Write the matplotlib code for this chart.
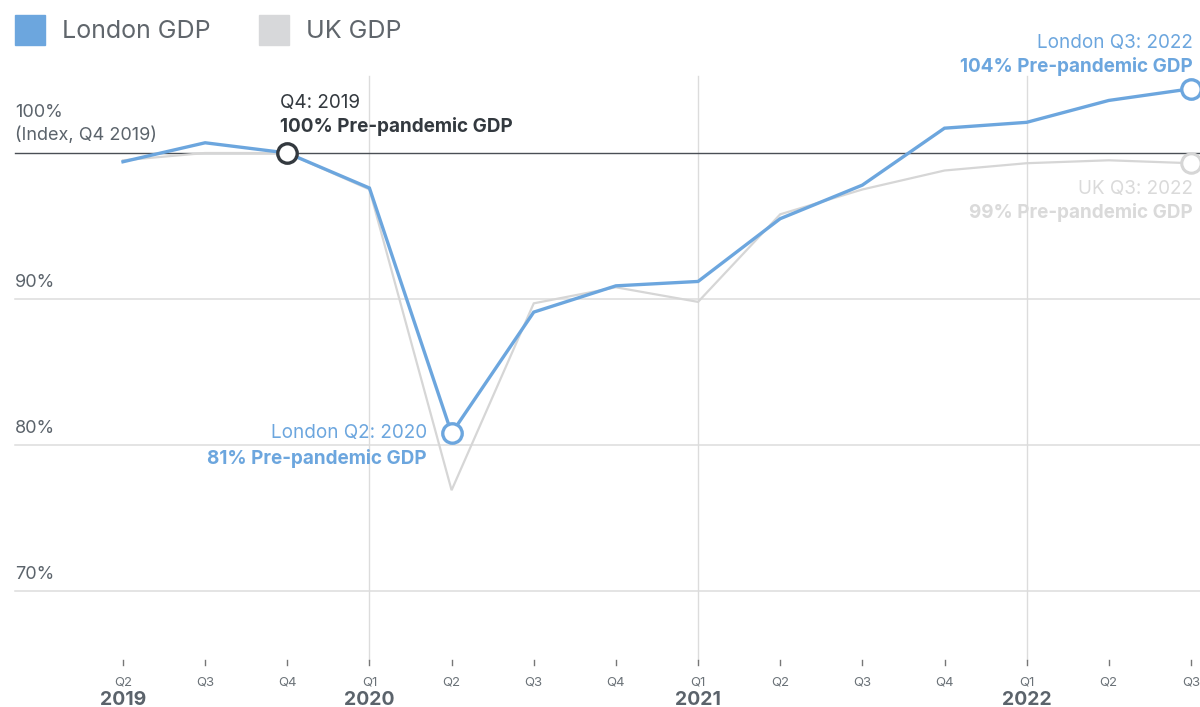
import matplotlib.pyplot as plt

plt.rcParams['font.family'] = ['Inter', 'DejaVu Sans']

# Quarterly GDP index (Q4 2019 = 100)
quarters = ["Q2", "Q3", "Q4", "Q1", "Q2", "Q3", "Q4",
            "Q1", "Q2", "Q3", "Q4", "Q1", "Q2", "Q3"]
years = ["2019", "2020", "2021", "2022"]
year_positions = [0, 3, 7, 11]
london_gdp = [99.4, 100.7, 100.0, 97.6, 80.8, 89.1, 90.9,
              91.2, 95.5, 97.8, 101.7, 102.1, 103.6, 104.4]
uk_gdp = [99.5, 100.0, 100.0, 97.5, 76.9, 89.7, 90.8,
          89.8, 95.8, 97.5, 98.8, 99.3, 99.5, 99.3]
y_grid = [90, 80, 70]

BLUE = "#6ca6de"
GREY = "#d6d6d6"
DARK = "#33393f"
TEXT = "#5b636b"
ANN = 13.6

fig = plt.figure(figsize=(12, 7.07), dpi=100)
ax = fig.add_axes([0, 0, 1, 1])
ax.set_xlim(-1.497, 13.11)
ax.set_ylim(62.05, 110.48)
ax.axis("off")

x = list(range(len(quarters)))
x_left = -1.315  # left edge of gridlines

# horizontal gridlines and labels
for v in y_grid:
    ax.plot([x_left, 13.2], [v, v], color="#dcdcdc", lw=1.1, zorder=1, clip_on=False)
    ax.text(x_left, v + 0.55, f"{v}%", fontsize=13, color=TEXT, ha="left", va="bottom")
ax.plot([x_left, 13.2], [100, 100], color="#4a4f55", lw=1.0, zorder=2, clip_on=False)
ax.text(x_left, 102.75, "100%", fontsize=13, color=TEXT, ha="left", va="center")
ax.text(x_left, 101.2, "(Index, Q4 2019)", fontsize=13, color=TEXT, ha="left", va="center")

# year separators
for p in year_positions[1:]:
    ax.plot([p, p], [105.3, 65.3], color="#dcdcdc", lw=1.0, zorder=1)

# quarter ticks and labels
for xi, q in zip(x, quarters):
    ax.plot([xi, xi], [65.3, 64.9], color="#777777", lw=1.0)
    ax.text(xi, 63.75, q, fontsize=9.5, color="#6b7278", ha="center", va="center")
for p, yr in zip(year_positions, years):
    ax.text(p, 62.55, yr, fontsize=14, color=TEXT, fontweight="bold",
            ha="center", va="center")

# series
ax.plot(x, uk_gdp, color=GREY, lw=1.6, zorder=3, solid_joinstyle="miter")
ax.plot(x, london_gdp, color=BLUE, lw=2.4, zorder=4, solid_joinstyle="miter")

# highlighted points
ms = 14
ax.plot(x[-1], uk_gdp[-1], "o", ms=ms, mfc="white", mec=GREY, mew=2.2, zorder=5, clip_on=False)
ax.plot(x[2], london_gdp[2], "o", ms=ms, mfc="white", mec=DARK, mew=2.4, zorder=6)
ax.plot(x[4], london_gdp[4], "o", ms=ms, mfc="white", mec=BLUE, mew=2.4, zorder=6)
ax.plot(x[-1], london_gdp[-1], "o", ms=ms, mfc="white", mec=BLUE, mew=2.4, zorder=6, clip_on=False)

# annotations
ax.text(x[2] - 0.09, 103.4, "Q4: 2019", fontsize=ANN, color=DARK, ha="left", va="center")
ax.text(x[2] - 0.09, 101.8, f"{round(london_gdp[2])}% Pre-pandemic GDP", fontsize=ANN,
        color=DARK, fontweight="bold", ha="left", va="center")

ax.text(x[4] - 0.3, 80.8, "London Q2: 2020", fontsize=ANN, color=BLUE, ha="right", va="center")
ax.text(x[4] - 0.3, 79.1, f"{round(london_gdp[4])}% Pre-pandemic GDP", fontsize=ANN,
        color=BLUE, fontweight="bold", ha="right", va="center")

ax.text(x[-1] + 0.02, 107.55, "London Q3: 2022", fontsize=ANN, color=BLUE, ha="right", va="center")
ax.text(x[-1] + 0.02, 105.95, f"{round(london_gdp[-1])}% Pre-pandemic GDP", fontsize=ANN,
        color=BLUE, fontweight="bold", ha="right", va="center")

ax.text(x[-1] + 0.02, 97.55, "UK Q3: 2022", fontsize=ANN, color="#dadada", ha="right", va="center")
ax.text(x[-1] + 0.02, 95.9, f"{round(uk_gdp[-1])}% Pre-pandemic GDP", fontsize=ANN,
        color="#dadada", fontweight="bold", ha="right", va="center")

# legend
fig.patches.append(plt.Rectangle((15 / 1200, 1 - 45 / 707), 30 / 1200, 30 / 707,
                                 transform=fig.transFigure, color=BLUE))
fig.text(62 / 1200, 1 - 31 / 707, "London GDP", fontsize=18, color="#60666c", va="center")
fig.patches.append(plt.Rectangle((259 / 1200, 1 - 45 / 707), 30 / 1200, 30 / 707,
                                 transform=fig.transFigure, color="#d7d8da"))
fig.text(306 / 1200, 1 - 31 / 707, "UK GDP", fontsize=18, color="#60666c", va="center")

fig.savefig("out.png", dpi=100, facecolor="white")
